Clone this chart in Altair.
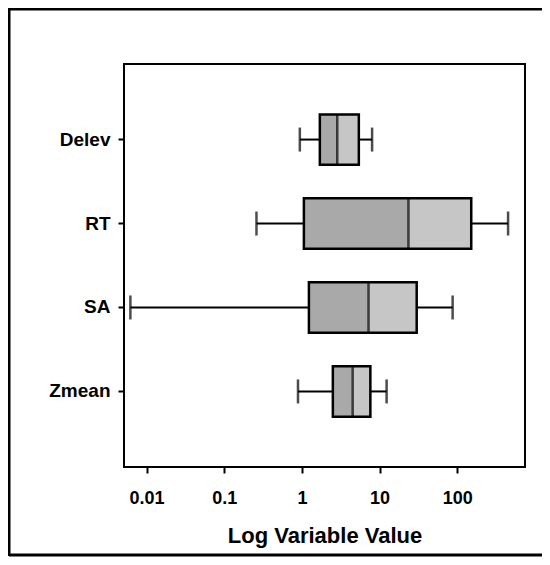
import altair as alt
import pandas as pd

categories = ["Delev", "RT", "SA", "Zmean"]
whisker_low = [0.94, 0.26, 0.0062, 0.89]
q1 = [1.7, 1.06, 1.23, 2.5]
median = [2.85, 23.5, 7.2, 4.5]
q3 = [5.4, 151, 30, 7.6]
whisker_high = [8.0, 450, 87, 12.3]
x_ticks = [0.01, 0.1, 1, 10, 100]

df = pd.DataFrame({
    "cat": categories,
    "lo": whisker_low,
    "q1": q1,
    "med": median,
    "q3": q3,
    "hi": whisker_high,
})

W, H = 401, 403
FONT = "Liberation Sans"

x_scale = alt.Scale(type="log", domain=[0.00513, 743], nice=False)
y_scale = alt.Scale(domain=categories, paddingInner=0.4, paddingOuter=0.6)

x_axis = alt.Axis(
    values=x_ticks, title="Log Variable Value", grid=False, domain=False,
    labelFont=FONT, labelFontSize=18, labelFontWeight="bold", labelColor="black",
    labelPadding=16, labelFlush=False,
    labelExpr="datum.value < 1 ? format(datum.value, '.2~f') : format(datum.value, 'd')",
    tickSize=6, tickWidth=2, tickColor="black",
    titleFont=FONT, titleFontSize=22, titleFontWeight="bold", titleColor="black",
    titleY=58, titleBaseline="top",
)
y_axis = alt.Axis(
    title=None, grid=False, domain=False,
    labelFont=FONT, labelFontSize=19, labelFontWeight="bold", labelColor="black",
    labelPadding=8, tickSize=6, tickWidth=2, tickColor="black",
)

base = alt.Chart(df)
Y = alt.Y("cat:N", scale=y_scale, sort=categories, axis=y_axis)


def X(field):
    return alt.X(field, type="quantitative", scale=x_scale, axis=x_axis)


whisk_lo = base.mark_rule(color="black", strokeWidth=2).encode(x=X("lo"), x2="q1:Q", y=Y)
whisk_hi = base.mark_rule(color="black", strokeWidth=2).encode(x=X("q3"), x2="hi:Q", y=Y)
box_lower = base.mark_bar(color="#a9a9a9").encode(x=X("q1"), x2="med:Q", y=Y)
box_upper = base.mark_bar(color="#c6c6c6").encode(x=X("med"), x2="q3:Q", y=Y)
box_outline = base.mark_bar(fillOpacity=0, stroke="black", strokeWidth=2.5).encode(
    x=X("q1"), x2="q3:Q", y=Y)
med_tick = base.mark_tick(color="black", size=50, thickness=2.5).encode(x=X("med"), y=Y)
cap_lo = base.mark_tick(color="black", size=24, thickness=2.5).encode(x=X("lo"), y=Y)
cap_hi = base.mark_tick(color="black", size=24, thickness=2.5).encode(x=X("hi"), y=Y)

one = pd.DataFrame({"a": [0]})
frame_top = alt.Chart(one).mark_rule(color="black", strokeWidth=3).encode(
    x=alt.value(-115), x2=alt.value(418), y=alt.value(-55))
frame_left = alt.Chart(one).mark_rule(color="black", strokeWidth=3).encode(
    x=alt.value(-115), y=alt.value(-56), y2=alt.value(H + 89))
frame_bottom = alt.Chart(one).mark_rule(color="black", strokeWidth=3).encode(
    x=alt.value(-115), x2=alt.value(418), y=alt.value(H + 88))

chart = alt.layer(
    whisk_lo, whisk_hi, box_lower, box_upper, box_outline, med_tick, cap_lo, cap_hi,
    frame_top, frame_left, frame_bottom
).properties(
    width=W, height=H,
    autosize=alt.AutoSizeParams(type="none"),
    padding={"left": 116, "top": 56, "right": 17, "bottom": 90},
    background="white",
).configure_view(stroke="black", strokeWidth=2)

chart.save("out.html", embed_options={"renderer": "svg", "actions": False})
